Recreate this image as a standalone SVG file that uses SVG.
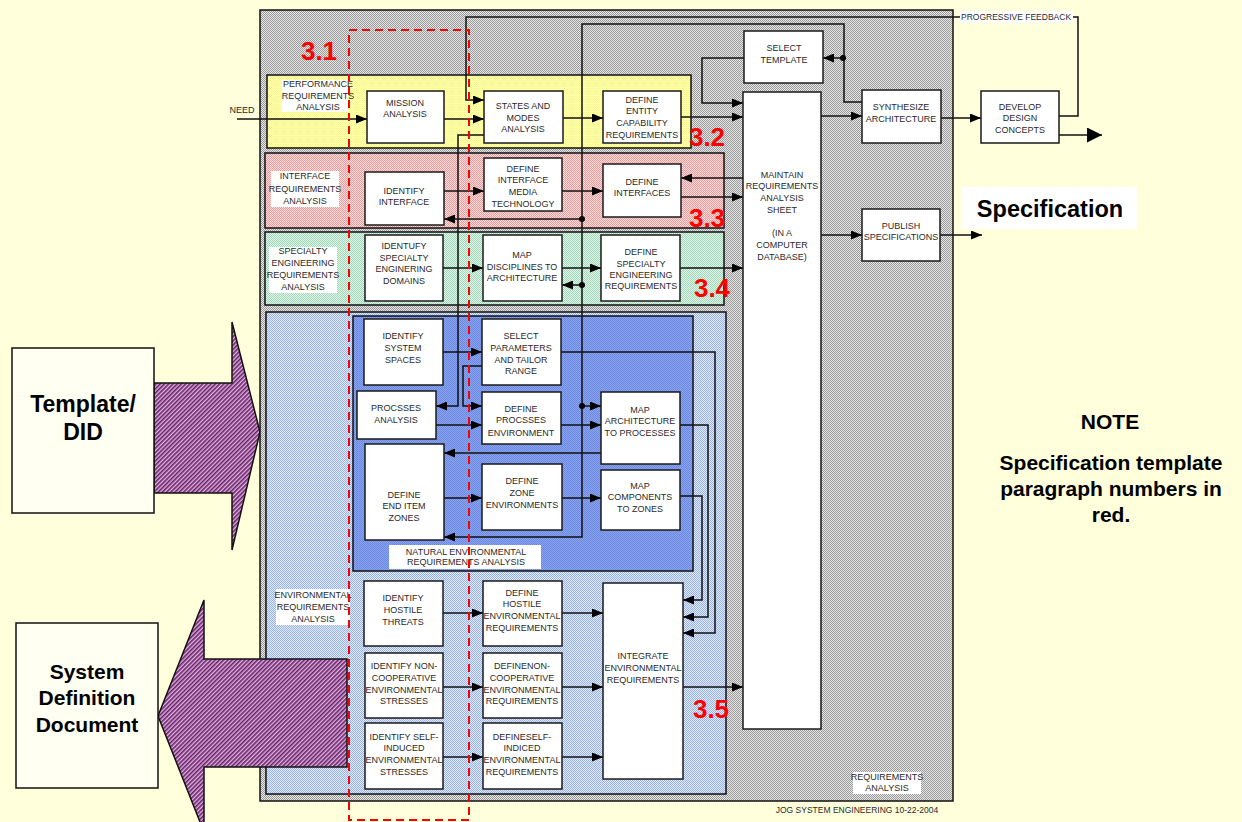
<svg xmlns="http://www.w3.org/2000/svg" width="1242" height="822" viewBox="0 0 1242 822">
<defs>
  <style>
    .t{font-family:"Liberation Sans",Arial,sans-serif;font-size:9px;fill:#2a2a2a;text-anchor:middle}
    .big{font-family:"Liberation Sans",Arial,sans-serif;font-weight:bold;fill:#000;text-anchor:middle}
    .num{font-family:"Liberation Sans",Arial,sans-serif;font-weight:bold;font-size:26px;fill:#ff0000;text-anchor:middle}
    .node rect{fill:#fff;stroke:#1a1a1a;stroke-width:1.5}
    .lbl{fill:#fff}
    .sec{stroke:#111;stroke-width:1.5}
    .c{fill:none;stroke:#111;stroke-width:1.5}
    .a{marker-end:url(#arr)}
  </style>
  <marker id="arr" markerUnits="userSpaceOnUse" markerWidth="12" markerHeight="9" refX="11" refY="4.5" orient="auto">
    <path d="M0,0 L11,4.5 L0,9 z" fill="#000"/>
  </marker>
  <marker id="arrBig" markerUnits="userSpaceOnUse" markerWidth="16" markerHeight="15" refX="15" refY="7.5" orient="auto">
    <path d="M0,0 L15,7.5 L0,15 z" fill="#000"/>
  </marker>
  <pattern id="pGray" width="2" height="2" patternUnits="userSpaceOnUse">
    <rect width="2" height="2" fill="#e6e6e6"/><rect width="1" height="1" fill="#9a9a9a"/><rect x="1" y="1" width="1" height="1" fill="#9a9a9a"/>
  </pattern>
  <pattern id="pYellow" width="2" height="2" patternUnits="userSpaceOnUse">
    <rect width="2" height="2" fill="#ffffd0"/><rect width="1" height="1" fill="#ffff70"/><rect x="1" y="1" width="1" height="1" fill="#ffff70"/>
  </pattern>
  <pattern id="pPink" width="2" height="2" patternUnits="userSpaceOnUse">
    <rect width="2" height="2" fill="#ffdede"/><rect width="1" height="1" fill="#ee9a9a"/><rect x="1" y="1" width="1" height="1" fill="#ee9a9a"/>
  </pattern>
  <pattern id="pGreen" width="2" height="2" patternUnits="userSpaceOnUse">
    <rect width="2" height="2" fill="#e2f6ea"/><rect width="1" height="1" fill="#9ed8b8"/><rect x="1" y="1" width="1" height="1" fill="#9ed8b8"/>
  </pattern>
  <pattern id="pBlue" width="2" height="2" patternUnits="userSpaceOnUse">
    <rect width="2" height="2" fill="#e2eaff"/><rect width="1" height="1" fill="#98b2ee"/><rect x="1" y="1" width="1" height="1" fill="#98b2ee"/>
  </pattern>
  <pattern id="pDeep" width="2" height="2" patternUnits="userSpaceOnUse">
    <rect width="2" height="2" fill="#8aa3ee"/><rect width="1" height="1" fill="#6c8ae2"/><rect x="1" y="1" width="1" height="1" fill="#6c8ae2"/>
  </pattern>
  <pattern id="pPurple" width="3" height="3" patternUnits="userSpaceOnUse" patternTransform="rotate(45)">
    <rect width="3" height="3" fill="#dcb6dc"/><rect width="1.6" height="3" fill="#6b1f6b"/>
  </pattern>
</defs>

<!-- page -->
<rect width="1242" height="822" fill="#ffffdc"/>

<!-- input document and arrow -->
<g id="template-did">
  <polygon points="154,383 232,383 232,322 260,432 232,550 232,493 154,493" fill="url(#pPurple)" stroke="#111" stroke-width="1.5"/>
  <rect x="12" y="348" width="142" height="165" fill="#fffff2" stroke="#111" stroke-width="1.5"/>
  <text class="big" font-size="23" x="83" y="412">Template/</text>
  <text class="big" font-size="23" x="83" y="440">DID</text>
</g>

<!-- requirements analysis frame -->
<g id="frame">
  <rect x="260" y="10" width="693" height="791" fill="url(#pGray)" stroke="#111" stroke-width="1.5"/>
  <rect class="lbl" x="853" y="772" width="68" height="22"/>
  <text class="t" x="887" y="780">REQUIREMENTS</text>
  <text class="t" x="887" y="791">ANALYSIS</text>
</g>

<!-- analysis sections -->
<g id="sec-performance">
  <rect class="sec" x="267" y="75" width="424" height="73" fill="url(#pYellow)"/>
  <rect class="lbl" x="282" y="80" width="66" height="32"/>
  <text class="t" x="318" y="87">PERFORMANCE</text>
  <text class="t" x="318" y="99">REQUIREMENTS</text>
  <text class="t" x="318" y="110">ANALYSIS</text>
</g>
<g id="sec-interface">
  <rect class="sec" x="265" y="153" width="459" height="75" fill="url(#pPink)"/>
  <rect class="lbl" x="271" y="171" width="68" height="36"/>
  <text class="t" x="305" y="179">INTERFACE</text>
  <text class="t" x="305" y="192">REQUIREMENTS</text>
  <text class="t" x="305" y="204">ANALYSIS</text>
</g>
<g id="sec-specialty">
  <rect class="sec" x="265" y="232" width="459" height="73" fill="url(#pGreen)"/>
  <rect class="lbl" x="269" y="247" width="68" height="46"/>
  <text class="t" x="303" y="254">SPECIALTY</text>
  <text class="t" x="303" y="266">ENGINEERING</text>
  <text class="t" x="303" y="277.5">REQUIREMENTS</text>
  <text class="t" x="303" y="289.5">ANALYSIS</text>
</g>
<g id="sec-environmental">
  <rect class="sec" x="266" y="312" width="460" height="482" fill="url(#pBlue)"/>
  <rect class="lbl" x="276" y="589" width="74" height="36"/>
  <text class="t" x="313" y="598">ENVIRONMENTAL</text>
  <text class="t" x="313" y="610">REQUIREMENTS</text>
  <text class="t" x="313" y="621.5">ANALYSIS</text>
</g>
<g id="sec-natural">
  <rect class="sec" x="353" y="316" width="340" height="255" fill="url(#pDeep)"/>
  <rect class="lbl" x="389" y="545" width="152" height="24"/>
  <text class="t" x="466" y="555">NATURAL ENVIRONMENTAL</text>
  <text class="t" x="466" y="565">REQUIREMENTS ANALYSIS</text>
</g>

<!-- output document arrow -->
<g id="system-definition-document">
  <polygon points="347,659 204,659 204,600 158,716 204,832 204,767 347,767" fill="url(#pPurple)" stroke="#111" stroke-width="1.5"/>
  <rect x="16" y="623" width="142" height="165" fill="#fffff2" stroke="#111" stroke-width="1.5"/>
  <text class="big" font-size="21" x="87" y="679">System</text>
  <text class="big" font-size="21" x="87" y="705">Definition</text>
  <text class="big" font-size="21" x="87" y="732">Document</text>
</g>

<!-- connectors -->
<g id="connectors">
  <line class="c a" x1="237" y1="119" x2="367" y2="119"/>
  <line class="c a" x1="444" y1="119" x2="484" y2="119"/>
  <polyline class="c a" points="1059,116 1078,116 1078,17 466,17 466,100 484,100"/>
  <line class="c a" x1="563" y1="118" x2="603" y2="118"/>
  <line class="c a" x1="681" y1="117" x2="743" y2="117"/>
  <polyline class="c a" points="744,58 702,58 702,103 743,103"/>
  <line class="c a" x1="821" y1="116" x2="862" y2="116"/>
  <polyline class="c a" points="862,102 844,102 844,24 582,24 582,537 444,537"/>
  <line class="c a" x1="843" y1="58" x2="823" y2="58"/>
  <line class="c a" x1="582" y1="219" x2="444" y2="219"/>
  <line class="c a" x1="582" y1="285" x2="562" y2="285"/>
  <line class="c a" x1="582" y1="406" x2="601" y2="406"/>
  <g fill="#000">
    <circle cx="843" cy="58" r="3"/>
    <circle cx="582" cy="219" r="3"/>
    <circle cx="582" cy="285" r="3"/>
    <circle cx="582" cy="406" r="3"/>
  </g>
  <line class="c a" x1="941" y1="118" x2="981" y2="118"/>
  <line class="c" x1="1059" y1="135" x2="1102" y2="135" marker-end="url(#arrBig)"/>
  <line class="c a" x1="821" y1="235" x2="862" y2="235"/>
  <line class="c a" x1="940" y1="235" x2="982" y2="235"/>
  <line class="c a" x1="444" y1="191" x2="484" y2="191"/>
  <line class="c a" x1="562" y1="191" x2="603" y2="191"/>
  <line class="c a" x1="743" y1="178" x2="681" y2="178"/>
  <line class="c a" x1="681" y1="197" x2="743" y2="197"/>
  <line class="c a" x1="443" y1="268" x2="483" y2="268"/>
  <line class="c a" x1="562" y1="268" x2="601" y2="268"/>
  <line class="c a" x1="680" y1="268" x2="743" y2="268"/>
  <polyline class="c a" points="484,135 458,135 458,406 436,406"/>
  <polyline class="c a" points="482,366 463,366 463,406 482,406"/>
  <line class="c a" x1="443" y1="352" x2="482" y2="352"/>
  <line class="c a" x1="436" y1="425" x2="482" y2="425"/>
  <line class="c a" x1="561" y1="425" x2="601" y2="425"/>
  <line class="c a" x1="601" y1="453" x2="444" y2="453"/>
  <line class="c a" x1="444" y1="498" x2="482" y2="498"/>
  <line class="c a" x1="562" y1="498" x2="601" y2="498"/>
  <polyline class="c a" points="561,352 715,352 715,633 683,633"/>
  <polyline class="c a" points="680,425 708,425 708,617 683,617"/>
  <polyline class="c a" points="680,496 702,496 702,600 683,600"/>
  <line class="c a" x1="443" y1="613" x2="483" y2="613"/>
  <line class="c a" x1="562" y1="613" x2="603" y2="613"/>
  <line class="c a" x1="443" y1="687" x2="483" y2="687"/>
  <line class="c a" x1="562" y1="687" x2="603" y2="687"/>
  <line class="c a" x1="443" y1="757" x2="483" y2="757"/>
  <line class="c a" x1="562" y1="757" x2="603" y2="757"/>
  <line class="c a" x1="683" y1="687" x2="743" y2="687"/>
  <rect x="960" y="11" width="113" height="12" fill="#fff"/>
  <text class="t" style="text-anchor:start;font-size:8.5px" x="961" y="20">PROGRESSIVE FEEDBACK</text>
</g>

<!-- process nodes -->
<g id="n-mission" class="node"><rect x="367" y="91" width="77" height="52"/>
  <text class="t" x="405" y="106">MISSION</text><text class="t" x="405" y="117">ANALYSIS</text></g>
<g id="n-states" class="node"><rect x="484" y="91" width="79" height="52"/>
  <text class="t" x="523" y="109">STATES AND</text><text class="t" x="523" y="121">MODES</text><text class="t" x="523" y="131.5">ANALYSIS</text></g>
<g id="n-entity" class="node"><rect x="603" y="91" width="78" height="52"/>
  <text class="t" x="642" y="103">DEFINE</text><text class="t" x="642" y="114">ENTITY</text><text class="t" x="642" y="126">CAPABILITY</text><text class="t" x="642" y="138">REQUIREMENTS</text></g>
<g id="n-select-template" class="node"><rect x="744" y="31" width="79" height="52"/>
  <text class="t" x="784" y="51">SELECT</text><text class="t" x="784" y="63">TEMPLATE</text></g>
<g id="n-maintain" class="node"><rect x="743" y="92" width="78" height="637"/>
  <text class="t" x="782" y="177.5">MAINTAIN</text><text class="t" x="782" y="189">REQUIREMENTS</text><text class="t" x="782" y="201">ANALYSIS</text><text class="t" x="782" y="213">SHEET</text>
  <text class="t" x="782" y="235.5">(IN A</text><text class="t" x="782" y="248">COMPUTER</text><text class="t" x="782" y="260">DATABASE)</text></g>
<g id="n-synthesize" class="node"><rect x="862" y="90" width="79" height="53"/>
  <text class="t" x="901" y="110">SYNTHESIZE</text><text class="t" x="901" y="121.5">ARCHITECTURE</text></g>
<g id="n-develop" class="node"><rect x="981" y="91" width="78" height="52"/>
  <text class="t" x="1020" y="110">DEVELOP</text><text class="t" x="1020" y="121">DESIGN</text><text class="t" x="1020" y="132.5">CONCEPTS</text></g>
<g id="n-publish" class="node"><rect x="862" y="209" width="78" height="52"/>
  <text class="t" x="901" y="229">PUBLISH</text><text class="t" x="901" y="240">SPECIFICATIONS</text></g>
<g id="n-identify-interface" class="node"><rect x="365" y="172" width="79" height="53"/>
  <text class="t" x="404" y="194">IDENTIFY</text><text class="t" x="404" y="205">INTERFACE</text></g>
<g id="n-media" class="node"><rect x="484" y="158" width="78" height="53"/>
  <text class="t" x="523" y="171.5">DEFINE</text><text class="t" x="523" y="183">INTERFACE</text><text class="t" x="523" y="195">MEDIA</text><text class="t" x="523" y="207">TECHNOLOGY</text></g>
<g id="n-define-interfaces" class="node"><rect x="603" y="164" width="78" height="53"/>
  <text class="t" x="642" y="185">DEFINE</text><text class="t" x="642" y="196">INTERFACES</text></g>
<g id="n-specialty-domains" class="node"><rect x="365" y="235" width="78" height="66"/>
  <text class="t" x="404" y="249">IDENTUFY</text><text class="t" x="404" y="261">SPECIALTY</text><text class="t" x="404" y="272">ENGINERING</text><text class="t" x="404" y="283.5">DOMAINS</text></g>
<g id="n-map-disciplines" class="node"><rect x="483" y="235" width="79" height="66"/>
  <text class="t" x="522" y="258">MAP</text><text class="t" x="522" y="270">DISCIPLINES TO</text><text class="t" x="522" y="280.5">ARCHITECTURE</text></g>
<g id="n-specialty-reqs" class="node"><rect x="601" y="235" width="79" height="66"/>
  <text class="t" x="641" y="255">DEFINE</text><text class="t" x="641" y="266.5">SPECIALTY</text><text class="t" x="641" y="278">ENGINEERING</text><text class="t" x="641" y="289">REQUIREMENTS</text></g>
<g id="n-system-spaces" class="node"><rect x="364" y="319" width="79" height="66"/>
  <text class="t" x="403" y="339">IDENTIFY</text><text class="t" x="403" y="351">SYSTEM</text><text class="t" x="403" y="363">SPACES</text></g>
<g id="n-select-parameters" class="node"><rect x="482" y="319" width="79" height="66"/>
  <text class="t" x="521" y="339">SELECT</text><text class="t" x="521" y="351">PARAMETERS</text><text class="t" x="521" y="363">AND TAILOR</text><text class="t" x="521" y="374">RANGE</text></g>
<g id="n-processes-analysis" class="node"><rect x="357" y="391" width="79" height="48"/>
  <text class="t" x="396" y="411">PROCSSES</text><text class="t" x="396" y="422.5">ANALYSIS</text></g>
<g id="n-processes-env" class="node"><rect x="482" y="392" width="79" height="52"/>
  <text class="t" x="521" y="412">DEFINE</text><text class="t" x="521" y="423">PROCSSES</text><text class="t" x="521" y="435.5">ENVIRONMENT</text></g>
<g id="n-map-architecture" class="node"><rect x="601" y="392" width="79" height="72"/>
  <text class="t" x="640" y="412.5">MAP</text><text class="t" x="640" y="424">ARCHITECTURE</text><text class="t" x="640" y="436">TO PROCESSES</text></g>
<g id="n-end-item-zones" class="node"><rect x="365" y="444" width="79" height="96"/>
  <text class="t" x="404" y="497.5">DEFINE</text><text class="t" x="404" y="509">END ITEM</text><text class="t" x="404" y="521">ZONES</text></g>
<g id="n-zone-env" class="node"><rect x="482" y="464" width="80" height="66"/>
  <text class="t" x="522" y="484">DEFINE</text><text class="t" x="522" y="496">ZONE</text><text class="t" x="522" y="507.5">ENVIRONMENTS</text></g>
<g id="n-map-components" class="node"><rect x="601" y="470" width="79" height="60"/>
  <text class="t" x="640" y="489">MAP</text><text class="t" x="640" y="500">COMPONENTS</text><text class="t" x="640" y="512">TO ZONES</text></g>
<g id="n-hostile-threats" class="node"><rect x="364" y="581" width="79" height="65"/>
  <text class="t" x="403" y="600.5">IDENTIFY</text><text class="t" x="403" y="612.5">HOSTILE</text><text class="t" x="403" y="625">THREATS</text></g>
<g id="n-hostile-reqs" class="node"><rect x="483" y="581" width="79" height="65"/>
  <text class="t" x="522" y="596">DEFINE</text><text class="t" x="522" y="607">HOSTILE</text><text class="t" x="522" y="619">ENVIRONMENTAL</text><text class="t" x="522" y="630.5">REQUIREMENTS</text></g>
<g id="n-noncoop-stresses" class="node"><rect x="365" y="653" width="78" height="65"/>
  <text class="t" x="404" y="669">IDENTIFY NON-</text><text class="t" x="404" y="681">COOPERATIVE</text><text class="t" x="404" y="693">ENVIRONMENTAL</text><text class="t" x="404" y="704">STRESSES</text></g>
<g id="n-noncoop-reqs" class="node"><rect x="483" y="653" width="79" height="65"/>
  <text class="t" x="522" y="669">DEFINENON-</text><text class="t" x="522" y="681">COOPERATIVE</text><text class="t" x="522" y="693">ENVIRONMENTAL</text><text class="t" x="522" y="704">REQUIREMENTS</text></g>
<g id="n-self-stresses" class="node"><rect x="365" y="723" width="78" height="66"/>
  <text class="t" x="404" y="740">IDENTIFY SELF-</text><text class="t" x="404" y="751">INDUCED</text><text class="t" x="404" y="763">ENVIRONMENTAL</text><text class="t" x="404" y="775">STRESSES</text></g>
<g id="n-self-reqs" class="node"><rect x="483" y="723" width="79" height="66"/>
  <text class="t" x="522" y="740">DEFINESELF-</text><text class="t" x="522" y="751">INDICED</text><text class="t" x="522" y="763">ENVIRONMENTAL</text><text class="t" x="522" y="775">REQUIREMENTS</text></g>
<g id="n-integrate" class="node"><rect x="603" y="583" width="80" height="196"/>
  <text class="t" x="643" y="659">INTEGRATE</text><text class="t" x="643" y="670.5">ENVIRONMENTAL</text><text class="t" x="643" y="683">REQUIREMENTS</text></g>

<!-- inputs / outputs outside the frame -->
<text class="t" x="242" y="113">NEED</text>
<g id="specification">
  <rect x="962" y="187" width="175" height="42" fill="#fff"/>
  <text class="big" font-size="23.5" x="1050" y="217">Specification</text>
</g>
<g id="note">
  <text class="big" font-size="21" x="1110" y="429">NOTE</text>
  <text class="big" font-size="21" x="1111" y="470">Specification template</text>
  <text class="big" font-size="21" x="1111" y="496">paragraph numbers in</text>
  <text class="big" font-size="21" x="1111" y="522">red.</text>
</g>
<text class="t" x="857" y="813" style="font-size:8.5px">JOG SYSTEM ENGINEERING 10-22-2004</text>

<!-- template paragraph boundary and numbers -->
<rect x="349" y="30" width="120" height="790" fill="none" stroke="#ff0000" stroke-width="2" stroke-dasharray="8,5"/>
<text class="num" x="319" y="60">3.1</text>
<text class="num" x="707" y="146">3.2</text>
<text class="num" x="707" y="227">3.3</text>
<text class="num" x="712" y="297">3.4</text>
<text class="num" x="711" y="718">3.5</text>
</svg>
